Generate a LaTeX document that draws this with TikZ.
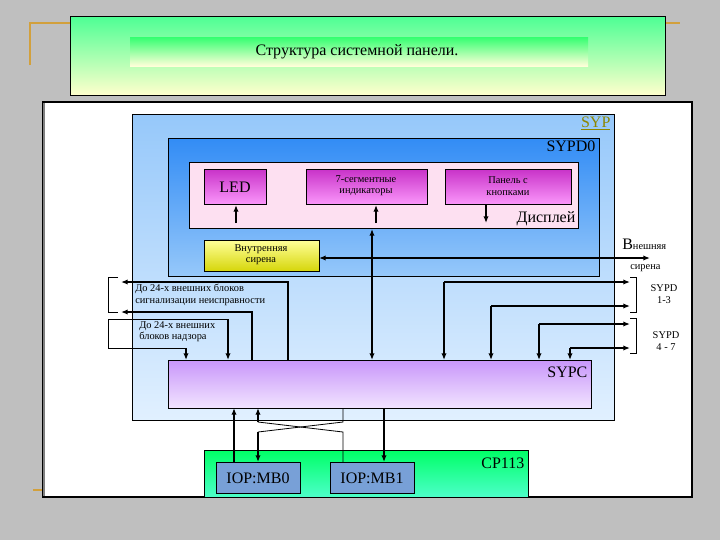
\documentclass[tikz,border=0pt]{standalone}
\usepackage{fontspec}
\setmainfont{Liberation Serif}
\usetikzlibrary{arrows.meta}
\definecolor{orn}{RGB}{210,160,60}
\definecolor{sypT}{RGB}{150,200,250}
\definecolor{sypB}{RGB}{225,240,255}
\definecolor{d0T}{RGB}{50,140,245}
\definecolor{d0B}{RGB}{150,200,250}
\definecolor{mgT}{RGB}{200,50,200}
\definecolor{mgB}{RGB}{250,150,250}
\definecolor{scT}{RGB}{200,150,250}
\definecolor{scB}{RGB}{242,228,255}
\definecolor{iop}{RGB}{120,160,215}
\begin{document}
\begin{tikzpicture}[x=0.75pt,y=-0.75pt,
  box/.style={draw=black,line width=0.6pt},
  ar/.style={line width=1.4pt,-{Latex[length=5pt,width=4pt]}},
  dar/.style={line width=1.4pt,{Latex[length=5pt,width=4pt]}-{Latex[length=5pt,width=4pt]}},
  ln/.style={line width=1.4pt},
  br/.style={line width=0.6pt},
  small/.style={font=\fontsize{7.8}{8.5}\selectfont,align=center},
  lab/.style={font=\fontsize{12}{13}\selectfont}]
\useasboundingbox (0,0) rectangle (720,540);
\fill[gray!50] (0,0) rectangle (720,540);
% orange decorations
\draw[orn,line width=1.5pt] (30,65) -- (30,23) -- (70,23);
\draw[orn,line width=1.5pt] (665,23) -- (680,23);
\draw[orn,line width=1.2pt] (33,490) -- (45,490);
% title
\path[box,top color=green!60!cyan!70,bottom color=yellow!20] (70,16) rectangle (665,95);
\path[top color=green!70!cyan!80,bottom color=yellow!15] (130,37) rectangle (588,66);
\node[font=\fontsize{12}{13}\selectfont] (title) at (357,52) {Структура системной панели.};
% white panel
\path[fill=white,draw=black,line width=0.8pt] (43,102) rectangle (692,497);
\draw[gray,line width=1.5pt] (44,103) -- (44,496);
% SYP
\path[box,top color=sypT,bottom color=sypB] (132,114) rectangle (614,420);
\node[text=olive,lab,anchor=north east,inner sep=1pt] (syp) at (612,115) {\underline{SYP}};
% SYPD0
\path[box,top color=d0T,bottom color=d0B] (168,138) rectangle (599,276);
\node[lab,anchor=north east,inner sep=1pt] (sypd0) at (597,139) {SYPD0};
% display
\path[box,fill=magenta!12] (189,162) rectangle (578,228);
\node[lab,anchor=south east,inner sep=1pt] (disp) at (577,227) {Дисплей};
\path[box,top color=mgT,bottom color=mgB] (204,169) rectangle (266,204);
\node[lab] (led) at (235,187) {LED};
\path[box,top color=mgT,bottom color=mgB] (306,169) rectangle (427,204);
\node[small] (seg) at (366,186) {7-сегментные\\индикаторы};
\path[box,top color=mgT,bottom color=mgB] (445,169) rectangle (571,204);
\node[small] (pan) at (508,186) {Панель с\\кнопками};
\coordinate (a1) at (236,223); \coordinate (a1e) at (236,205);
\draw[ar] (a1) -- (a1e);
\coordinate (a2) at (376,223); \coordinate (a2e) at (376,205);
\draw[ar] (a2) -- (a2e);
\coordinate (a3) at (486,205); \coordinate (a3e) at (486,223);
\draw[ar] (a3) -- (a3e);
% siren
\path[box,top color=yellow!40,bottom color=yellow!60!olive!80] (204,240) rectangle (319,271);
\node[small] (sir) at (261,255) {Внутренняя\\сирена};
\coordinate (s1) at (319,258); \coordinate (s2) at (650,258);
\draw[dar] (s1) -- (s2);
\node[anchor=west,inner sep=0pt] (ext) at (622,244) {\fontsize{12}{13}\selectfont В\fontsize{7.8}{8.5}\selectfont нешняя};
\node[small,anchor=west,inner sep=0pt] (ext2) at (630,268) {сирена};
% SYPC
\path[box,top color=scT,bottom color=scB] (168,360) rectangle (591,408);
\node[lab,anchor=north east,inner sep=1pt] (sypc) at (589,365) {SYPC};
% main bus
\coordinate (b1) at (372,360); \coordinate (b2) at (372,229);
\draw[dar] (b2) -- (b1);
% left fault
\draw[ar] (288,360) -- (288,282) -- (121,282);
\draw[ar] (252,360) -- (252,312) -- (121,312);
\draw[br] (118,277) -- (108,277) -- (108,312) -- (118,312);
\node[small,anchor=north west,align=left,inner sep=0pt] (f) at (135,284) {До 24-х внешних блоков\\сигнализации неисправности};
% supervision
\draw[br] (120,319) -- (108,319) -- (108,348) -- (186,348);
\draw[ar] (186,348) -- (186,360);
\draw[br] (120,319) -- (228,319);
\draw[ar] (228,319) -- (228,360);
\node[small,anchor=north west,align=left,inner sep=0pt] (s) at (139,321) {До 24-х внешних\\блоков надзора};
% right
\draw[ar] (444,282) -- (630,282);
\draw[ar] (444,282) -- (444,360);
\draw[ar] (491,306) -- (630,306);
\draw[ar] (491,306) -- (491,360);
\draw[ar] (539,324) -- (630,324);
\draw[ar] (539,324) -- (539,360);
\draw[ar] (570,348) -- (630,348);
\draw[ar] (570,348) -- (570,360);
\draw[br] (630,277) -- (636,277) -- (636,312) -- (630,312);
\draw[br] (630,318) -- (636,318) -- (636,353) -- (630,353);
\node[small] (r1) at (664,294) {SYPD\\1-3};
\node[small] (r2) at (666,341) {SYPD\\4 - 7};
% CP113
\path[box,top color=green!60!cyan,bottom color=cyan!70!green!70] (204,450) rectangle (528,497);
\node[lab,anchor=north east,inner sep=1pt] (cp) at (526,456) {CP113};
\path[box,fill=iop] (216,462) rectangle (300,493);
\node[lab] (mb0) at (258,478) {IOP:MB0};
\path[box,fill=iop] (330,462) rectangle (414,493);
\node[lab] (mb1) at (372,478) {IOP:MB1};
% bottom connectors
\draw[ar] (234,462) -- (234,408);
\draw[ar] (258,422) -- (258,408);
\draw[ar] (258,432) -- (258,462);
\draw[line width=0.6pt] (258,422) -- (343,432) -- (343,462);
\draw[line width=0.6pt] (258,432) -- (343,422) -- (343,408);
\draw[ar] (384,408) -- (384,462);
\end{tikzpicture}
\end{document}
